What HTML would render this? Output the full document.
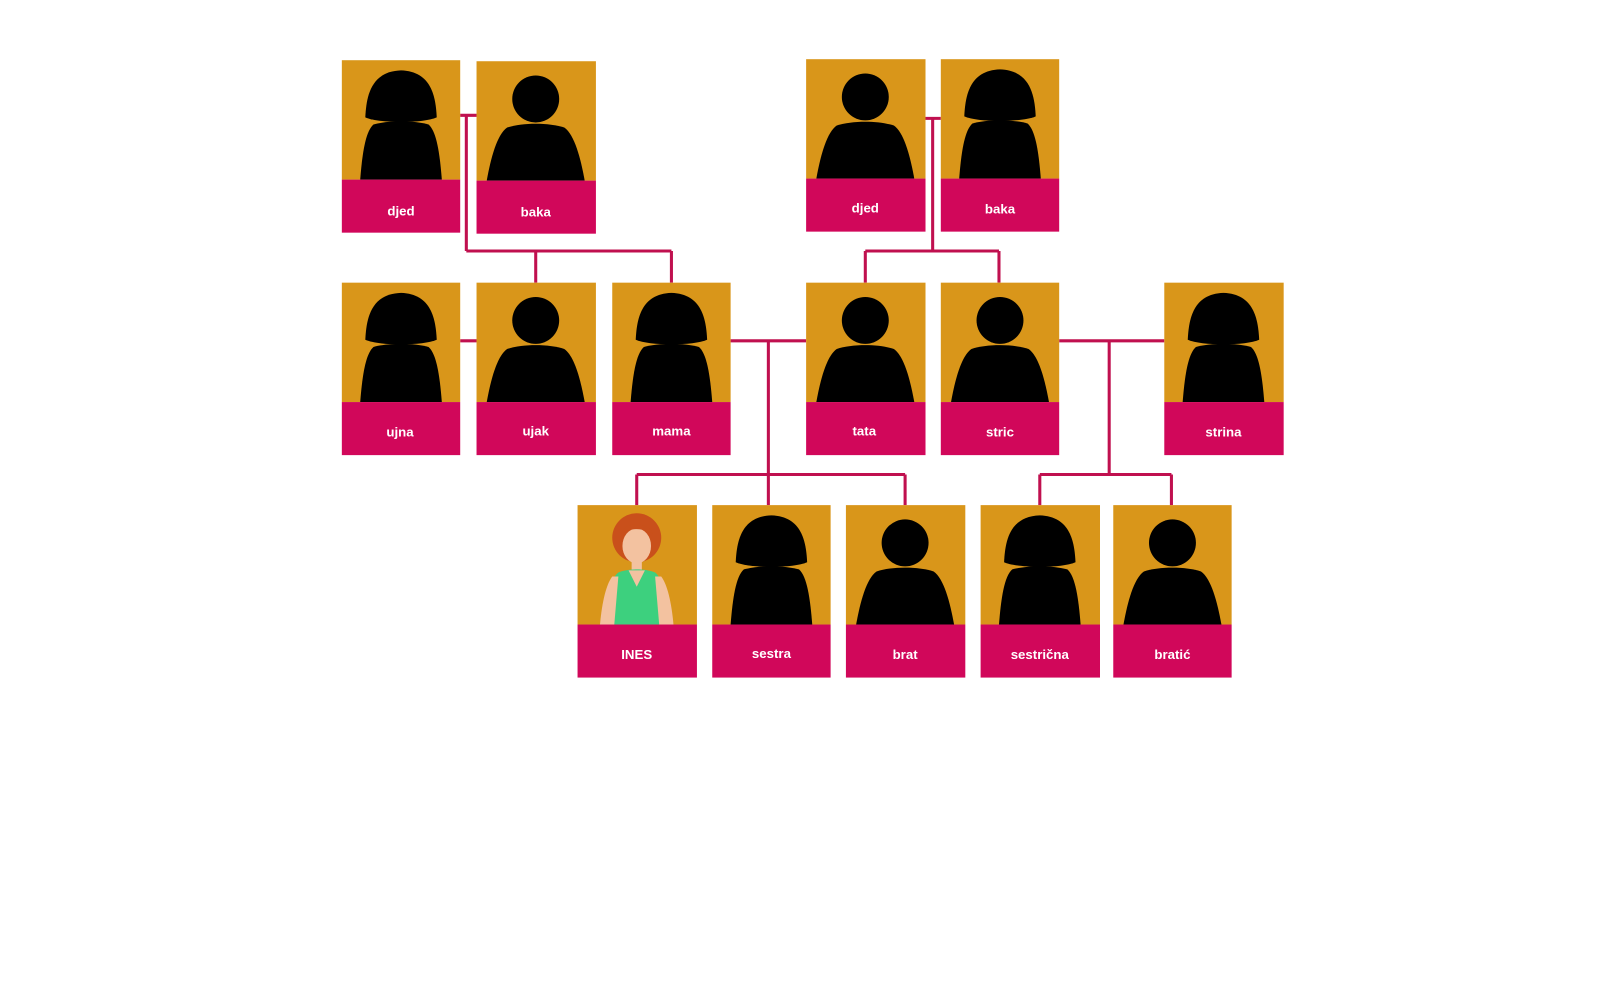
<!DOCTYPE html>
<html><head><meta charset="utf-8"><style>
html,body{margin:0;padding:0;background:#fff;}
svg{display:block}
text{font-family:"Liberation Sans",sans-serif;font-weight:bold;font-size:13px;fill:#fff;text-anchor:middle}
</style></head><body>
<svg width="1600" height="988" viewBox="0 0 1568 968.2" preserveAspectRatio="none" xmlns="http://www.w3.org/2000/svg">
<defs>
<g id="f">
<path d="M23,56 C24,36 28,11 58,10 C88,11 92,36 93,56 C80,62 36,62 23,56 Z" fill="#000"/>
<path d="M18,117 C20,92 23,70 31,63 C45,59 71,59 85,63 C93,70 96,92 98,117 Z" fill="#000"/>
</g>
<g id="m">
<circle cx="58" cy="37" r="23" fill="#000"/>
<path d="M10,117 C14,95 20,72 30,65 C45,60 71,60 86,65 C96,72 102,95 106,117 Z" fill="#000"/>
</g>
<g id="ines">
<circle cx="58" cy="32" r="24" fill="#c9501b"/>
<ellipse cx="58" cy="40" rx="14" ry="17" fill="#f3c2a0"/>
<path d="M42,28 C46,16 70,16 74,28 C66,22 50,22 42,28Z" fill="#c9501b"/>
<rect x="53" y="55" width="10" height="10" fill="#f3c2a0"/>
<path d="M28,117 C30,90 32,72 40,66 C50,62 66,62 76,66 C84,72 86,90 88,117 Z" fill="#3dd07e"/>
<path d="M22,117 C24,95 28,78 34,70 L40,70 L36,117Z" fill="#f3c2a0"/>
<path d="M94,117 C92,95 88,78 82,70 L76,70 L80,117Z" fill="#f3c2a0"/>
<path d="M50,64 L58,80 L66,64 Z" fill="#f3c2a0"/>
</g>
</defs>
<g stroke="#c0104f" stroke-width="3" fill="none">
<path d="M451,113H467M457,113V246M457,246H658M525,246V277M658,246V277"/>
<path d="M907,116H922M914,116V246M848,246H979M848,246V277M979,246V277"/>
<path d="M451,334H467"/>
<path d="M716,334H790M753,334V465M624,465H887M624,465V495M753,465V495M887,465V495"/>
<path d="M1038,334H1141M1087,334V465M1019,465H1148M1019,465V495M1148,465V495"/>
</g>
<g id="cards">
<g transform="translate(335,59)"><rect width="116" height="117" fill="#d9961a"/><use href="#f"/><rect y="117" width="116" height="52" fill="#d1075a"/><text x="58" y="152">djed</text></g>
<g transform="translate(467,60)"><rect width="117" height="117" fill="#d9961a"/><use href="#m"/><rect y="117" width="117" height="52" fill="#d1075a"/><text x="58" y="152">baka</text></g>
<g transform="translate(790,58)"><rect width="117" height="117" fill="#d9961a"/><use href="#m"/><rect y="117" width="117" height="52" fill="#d1075a"/><text x="58" y="150">djed</text></g>
<g transform="translate(922,58)"><rect width="116" height="117" fill="#d9961a"/><use href="#f"/><rect y="117" width="116" height="52" fill="#d1075a"/><text x="58" y="151">baka</text></g>
<g transform="translate(335,277)"><rect width="116" height="117" fill="#d9961a"/><use href="#f"/><rect y="117" width="116" height="52" fill="#d1075a"/><text x="57" y="151">ujna</text></g>
<g transform="translate(467,277)"><rect width="117" height="117" fill="#d9961a"/><use href="#m"/><rect y="117" width="117" height="52" fill="#d1075a"/><text x="58" y="150">ujak</text></g>
<g transform="translate(600,277)"><rect width="116" height="117" fill="#d9961a"/><use href="#f"/><rect y="117" width="116" height="52" fill="#d1075a"/><text x="58" y="150">mama</text></g>
<g transform="translate(790,277)"><rect width="117" height="117" fill="#d9961a"/><use href="#m"/><rect y="117" width="117" height="52" fill="#d1075a"/><text x="57" y="150">tata</text></g>
<g transform="translate(922,277)"><rect width="116" height="117" fill="#d9961a"/><use href="#m"/><rect y="117" width="116" height="52" fill="#d1075a"/><text x="58" y="151">stric</text></g>
<g transform="translate(1141,277)"><rect width="117" height="117" fill="#d9961a"/><use href="#f"/><rect y="117" width="117" height="52" fill="#d1075a"/><text x="58" y="151">strina</text></g>
<g transform="translate(566,495)"><rect width="117" height="117" fill="#d9961a"/><use href="#ines"/><rect y="117" width="117" height="52" fill="#d1075a"/><text x="58" y="151">INES</text></g>
<g transform="translate(698,495)"><rect width="116" height="117" fill="#d9961a"/><use href="#f"/><rect y="117" width="116" height="52" fill="#d1075a"/><text x="58" y="150">sestra</text></g>
<g transform="translate(829,495)"><rect width="117" height="117" fill="#d9961a"/><use href="#m"/><rect y="117" width="117" height="52" fill="#d1075a"/><text x="58" y="151">brat</text></g>
<g transform="translate(961,495)"><rect width="117" height="117" fill="#d9961a"/><use href="#f"/><rect y="117" width="117" height="52" fill="#d1075a"/><text x="58" y="151">sestrična</text></g>
<g transform="translate(1091,495)"><rect width="116" height="117" fill="#d9961a"/><use href="#m"/><rect y="117" width="116" height="52" fill="#d1075a"/><text x="58" y="151">bratić</text></g>
</g>
</svg>
</body></html>
